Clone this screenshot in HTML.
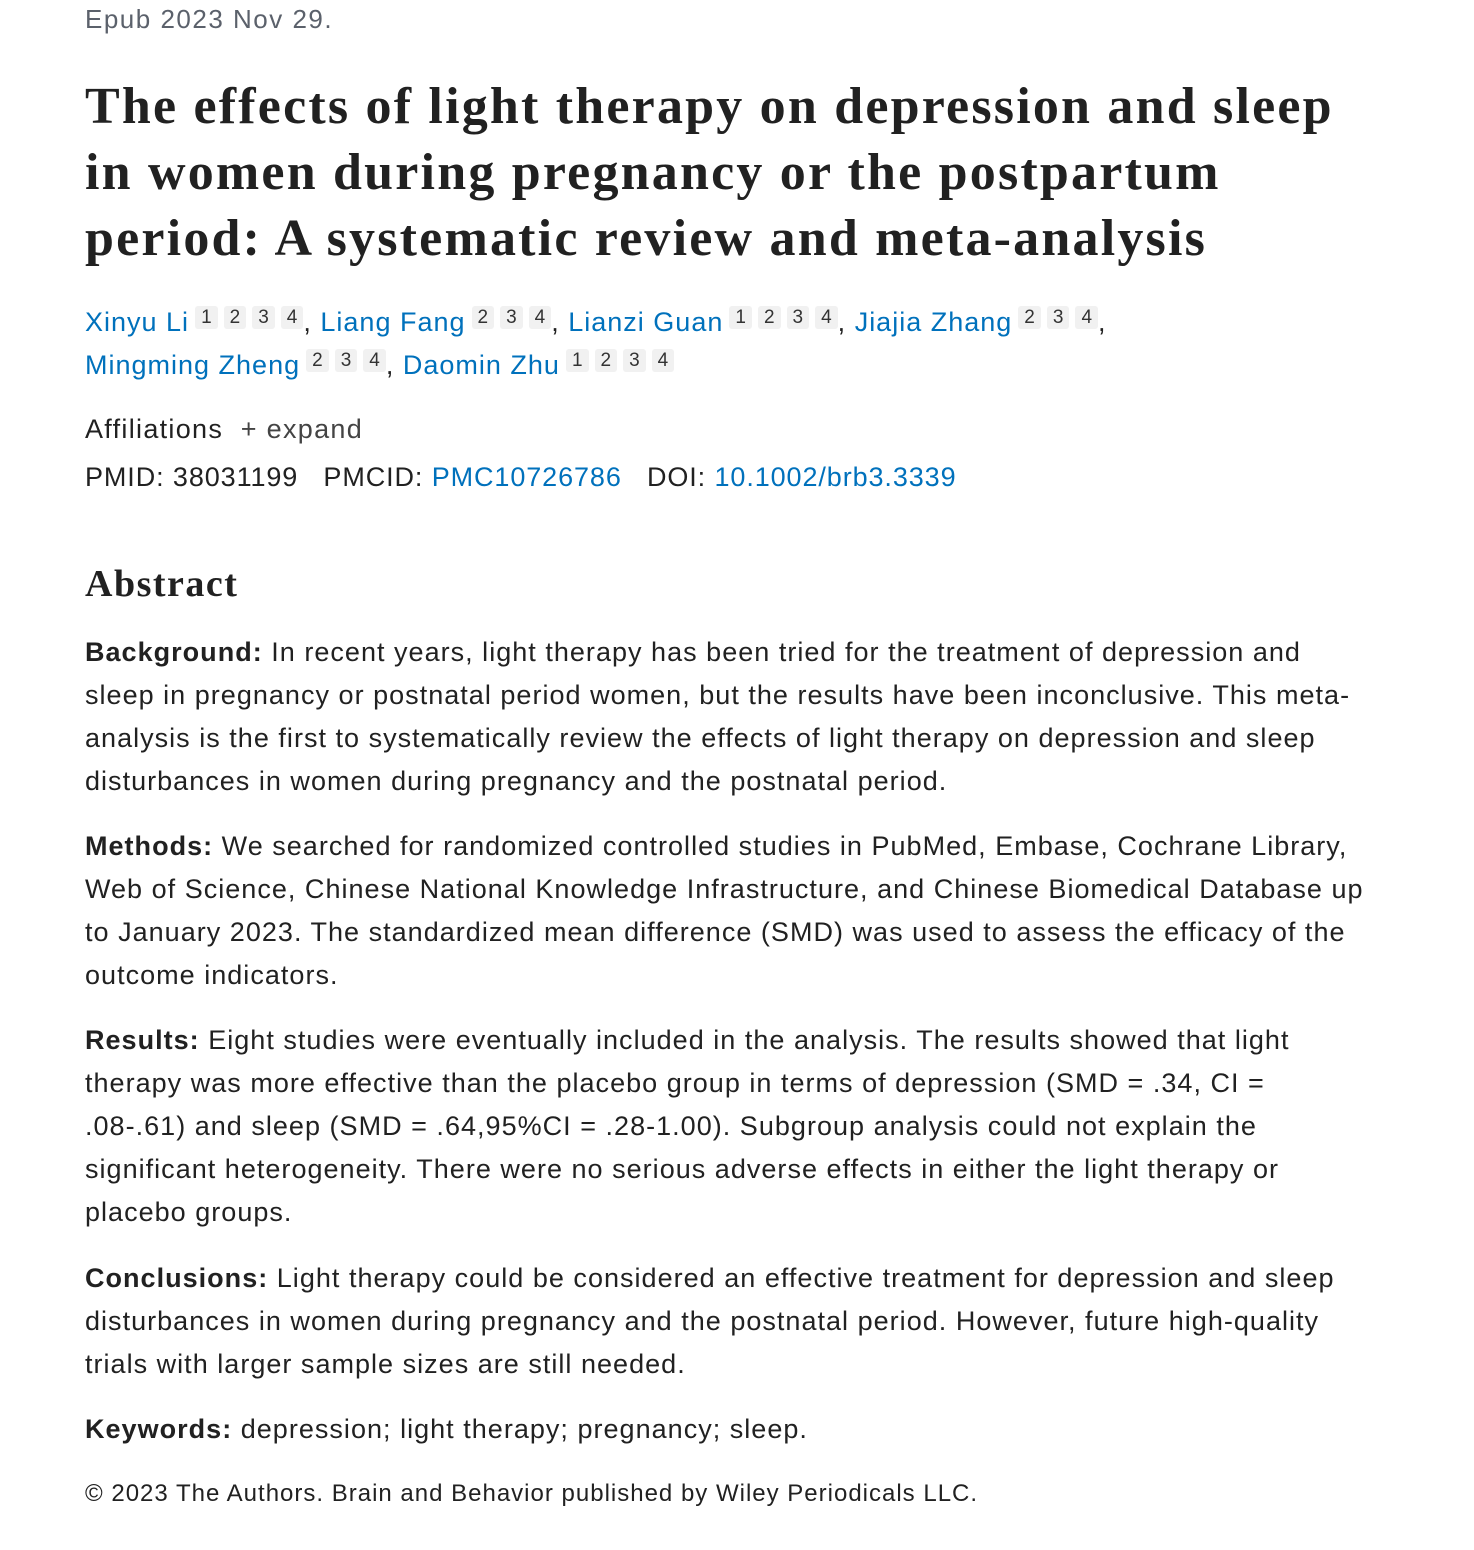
<!DOCTYPE html>
<html><head><meta charset="utf-8"><style>
body{margin:0;background:#fff;width:1474px;height:1550px;overflow:hidden;font-family:"Liberation Sans",sans-serif;color:#212121}
.ep{position:absolute;left:85px;top:4px;font-size:26px;color:#5b616b;letter-spacing:1.5px}
h1{position:absolute;left:85px;top:74px;margin:0;font-family:"Liberation Serif",serif;font-weight:bold;font-size:52px;line-height:66px;color:#212121;white-space:nowrap;letter-spacing:2.2px}
.au{position:absolute;left:85px;top:301px;font-size:27px;line-height:43px;white-space:nowrap;letter-spacing:1px}
a{color:#0071bc;text-decoration:none}
sup{display:inline-block;background:#f1f1f1;color:#333;font-size:19px;line-height:23px;padding:0 6px;margin-left:6px;border-radius:3px;vertical-align:8px;letter-spacing:0}
.aff{position:absolute;left:85px;top:414px;font-size:27px;white-space:nowrap;letter-spacing:1.3px}
.aff span{color:#444}
.id{position:absolute;left:85px;top:462px;font-size:27px;white-space:nowrap;letter-spacing:0.9px}
h2{position:absolute;left:85px;top:562px;margin:0;font-family:"Liberation Serif",serif;font-weight:bold;font-size:38px;color:#212121;letter-spacing:1.5px}
.p{position:absolute;left:85px;font-size:27px;line-height:43px;white-space:nowrap;letter-spacing:1.02px}
.c{position:absolute;left:85px;top:1480px;font-size:24px;white-space:nowrap;letter-spacing:1px}
</style></head><body>
<div class="ep">Epub 2023 Nov 29.</div>
<h1>The effects of light therapy on depression and sleep<br>in women during pregnancy or the postpartum<br>period: A systematic review and meta-analysis</h1>
<div class="au"><a>Xinyu Li</a><sup>1</sup><sup>2</sup><sup>3</sup><sup>4</sup>, <a>Liang Fang</a><sup>2</sup><sup>3</sup><sup>4</sup>, <a>Lianzi Guan</a><sup>1</sup><sup>2</sup><sup>3</sup><sup>4</sup>, <a>Jiajia Zhang</a><sup>2</sup><sup>3</sup><sup>4</sup>,<br><a>Mingming Zheng</a><sup>2</sup><sup>3</sup><sup>4</sup>, <a>Daomin Zhu</a><sup>1</sup><sup>2</sup><sup>3</sup><sup>4</sup></div>
<div class="aff">Affiliations &nbsp;<span>+ expand</span></div>
<div class="id">PMID: 38031199 &nbsp;&nbsp;PMCID: <a>PMC10726786</a> &nbsp;&nbsp;DOI: <a>10.1002/brb3.3339</a></div>
<h2>Abstract</h2>
<div class="p" style="top:631px"><b>Background:</b> In recent years, light therapy has been tried for the treatment of depression and<br>sleep in pregnancy or postnatal period women, but the results have been inconclusive. This meta-<br>analysis is the first to systematically review the effects of light therapy on depression and sleep<br>disturbances in women during pregnancy and the postnatal period.</div>
<div class="p" style="top:825px"><b>Methods:</b> We searched for randomized controlled studies in PubMed, Embase, Cochrane Library,<br>Web of Science, Chinese National Knowledge Infrastructure, and Chinese Biomedical Database up<br>to January 2023. The standardized mean difference (SMD) was used to assess the efficacy of the<br>outcome indicators.</div>
<div class="p" style="top:1019px"><b>Results:</b> Eight studies were eventually included in the analysis. The results showed that light<br>therapy was more effective than the placebo group in terms of depression (SMD = .34, CI =<br>.08-.61) and sleep (SMD = .64,95%CI = .28-1.00). Subgroup analysis could not explain the<br>significant heterogeneity. There were no serious adverse effects in either the light therapy or<br>placebo groups.</div>
<div class="p" style="top:1257px"><b>Conclusions:</b> Light therapy could be considered an effective treatment for depression and sleep<br>disturbances in women during pregnancy and the postnatal period. However, future high-quality<br>trials with larger sample sizes are still needed.</div>
<div class="p" style="top:1408px"><b>Keywords:</b> depression; light therapy; pregnancy; sleep.</div>
<div class="c">© 2023 The Authors. Brain and Behavior published by Wiley Periodicals LLC.</div>
</body></html>
